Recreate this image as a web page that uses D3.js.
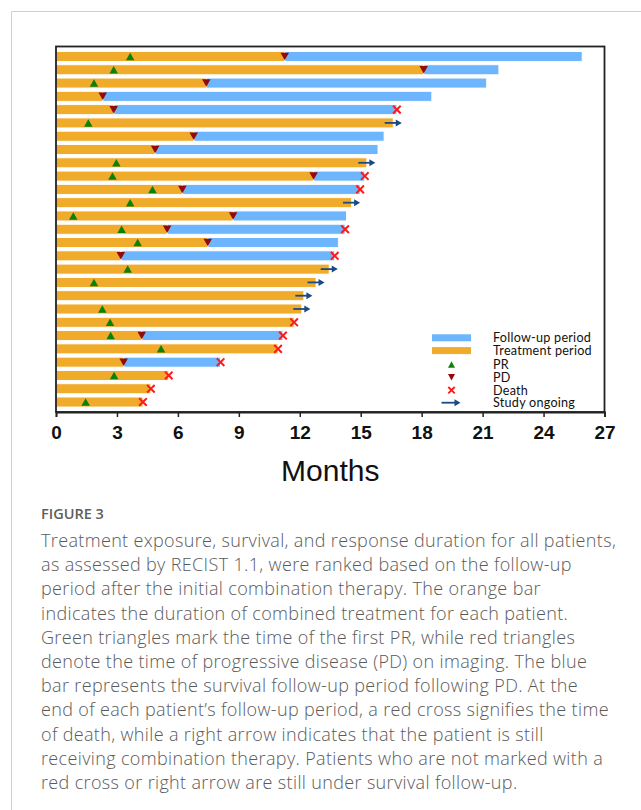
<!DOCTYPE html>
<html>
<head>
<meta charset="utf-8">
<script src="https://cdn.jsdelivr.net/npm/d3@7"></script>
<style>
  html, body { margin: 0; padding: 0; background: #fff; }
  svg { display: block; }
</style>
</head>
<body>
<svg id="chart" width="641" height="810"></svg>
<script>
// ---------------- DATA ----------------
const patients   = d3.range(1, 28).map(i => "P" + i);
const prTime     = [3.65, 2.84, 1.87, null, null, 1.59, null, null, 2.97, 2.78, 4.75, 3.65, 0.85, 3.23, 4.02, null, 3.53, 1.87, null, 2.28, 2.66, 2.69, 5.17, null, 2.86, null, 1.46];
const pdTime     = [11.26, 18.1, 7.4, 2.3, 2.84, null, 6.78, 4.88, null, 12.68, 6.22, null, 8.72, 5.47, 7.47, 3.19, null, null, null, null, null, 4.22, null, 3.33, null, null, null];
const treatEnd   = [11.26, 18.1, 7.4, 2.3, 2.84, 16.6, 6.78, 4.88, 15.3, 12.68, 6.22, 14.55, 8.72, 5.47, 7.47, 3.19, 13.45, 12.8, 12.2, 12.1, 11.72, 4.22, 10.93, 3.33, 5.55, 4.67, 4.28];
const followEnd  = [25.9, 21.8, 21.2, 18.5, 16.78, 16.6, 16.15, 15.85, 15.3, 15.2, 14.97, 14.55, 14.3, 14.23, 13.9, 13.72, 13.45, 12.8, 12.2, 12.1, 11.72, 11.17, 10.93, 8.1, 5.55, 4.67, 4.28];
const outcome    = ["none","none","none","none","death","ongoing","none","none","ongoing","death","death","ongoing","none","death","none","death","ongoing","ongoing","ongoing","ongoing","death","death","death","death","death","death","death"];
const xTicks     = [0, 3, 6, 9, 12, 15, 18, 21, 24, 27];
const legendLabels = ["Follow-up period", "Treatment period", "PR", "PD", "Death", "Study ongoing"];
const captionTitle = "FIGURE 3";
const captionLines = [
  "Treatment exposure, survival, and response duration for all patients,",
  "as assessed by RECIST 1.1, were ranked based on the follow-up",
  "period after the initial combination therapy. The orange bar",
  "indicates the duration of combined treatment for each patient.",
  "Green triangles mark the time of the first PR, while red triangles",
  "denote the time of progressive disease (PD) on imaging. The blue",
  "bar represents the survival follow-up period following PD. At the",
  "end of each patient\u2019s follow-up period, a red cross signifies the time",
  "of death, while a right arrow indicates that the patient is still",
  "receiving combination therapy. Patients who are not marked with a",
  "red cross or right arrow are still under survival follow-up."
];

// ---------------- STYLE ----------------
const C = {
  orange: "#f1ab2b", blue: "#6db5fd", green: "#0b800b", darkred: "#930a0a",
  red: "#ff1a1a", arrow: "#1a4a85", frame: "#222"
};

const rows = patients.map((p, i) => ({
  id: p, pr: prTime[i], pd: pdTime[i], treat: treatEnd[i], end: followEnd[i], out: outcome[i]
}));

const svg = d3.select("#chart");

// card border
svg.append("path").attr("d", "M11.5,810 L11.5,11.5 L641,11.5")
  .attr("fill", "none").attr("stroke", "#cfcfcf").attr("stroke-width", 1);

const L = 56, R = 604.5, T = 46.5, B = 412;
const x = d3.scaleLinear().domain([0, 27]).range([L, R]);
const y = d3.scalePoint().domain(patients).range([T, B]).padding(0.75);
const barH = 10;

const g = svg.append("g");

// follow-up (blue) bars
g.selectAll("rect.fu").data(rows.filter(d => d.pd != null)).join("rect")
  .attr("class", "fu")
  .attr("x", d => x(d.pd)).attr("width", d => x(d.end) - x(d.pd))
  .attr("y", d => y(d.id) - barH / 2).attr("height", barH)
  .attr("fill", C.blue).attr("stroke", "#fff").attr("stroke-width", 0.9);

// treatment (orange) bars
g.selectAll("rect.tr").data(rows).join("rect")
  .attr("class", "tr")
  .attr("x", x(0)).attr("width", d => x(d.treat) - x(0))
  .attr("y", d => y(d.id) - barH / 2).attr("height", barH)
  .attr("fill", C.orange).attr("stroke", "#fff").attr("stroke-width", 0.9);

const triUp = (cx, cy, w, h) => `M${cx - w/2},${cy + h/2} L${cx + w/2},${cy + h/2} L${cx},${cy - h/2} Z`;
const triDown = (cx, cy, w, h) => `M${cx - w/2},${cy - h/2} L${cx + w/2},${cy - h/2} L${cx},${cy + h/2} Z`;
const cross = (cx, cy, s) => `M${cx - s},${cy - s} L${cx + s},${cy + s} M${cx - s},${cy + s} L${cx + s},${cy - s}`;

// PR
g.selectAll("path.pr").data(rows.filter(d => d.pr != null)).join("path")
  .attr("class", "pr").attr("d", d => triUp(x(d.pr), y(d.id), 8.5, 7.5)).attr("fill", C.green);
// PD
g.selectAll("path.pd").data(rows.filter(d => d.pd != null)).join("path")
  .attr("class", "pd").attr("d", d => triDown(x(d.pd), y(d.id), 8.5, 7.5)).attr("fill", C.darkred);
// Death
g.selectAll("path.death").data(rows.filter(d => d.out === "death")).join("path")
  .attr("class", "death").attr("d", d => cross(x(d.end), y(d.id), 3.8))
  .attr("stroke", C.red).attr("stroke-width", 2).attr("fill", "none");
// Ongoing arrows
const arrowHalf = 0.42;
const arr = g.selectAll("g.arr").data(rows.filter(d => d.out === "ongoing")).join("g").attr("class", "arr");
arr.append("line")
  .attr("x1", d => x(d.end - arrowHalf)).attr("x2", d => x(d.end + arrowHalf) - 4)
  .attr("y1", d => y(d.id)).attr("y2", d => y(d.id))
  .attr("stroke", C.arrow).attr("stroke-width", 1.8);
arr.append("path")
  .attr("d", d => { const tx = x(d.end + arrowHalf), cy = y(d.id); return `M${tx},${cy} L${tx - 6},${cy - 3.5} L${tx - 6},${cy + 3.5} Z`; })
  .attr("fill", C.arrow);

// frame
svg.append("rect").attr("x", L).attr("y", T).attr("width", R - L).attr("height", B - T)
  .attr("fill", "none").attr("stroke", C.frame).attr("stroke-width", 1.8);

// x axis
const ax = svg.append("g").attr("transform", `translate(0,${B})`)
  .call(d3.axisBottom(x).tickValues(xTicks).tickSize(5).tickPadding(9).tickFormat(d3.format("d")));
ax.select(".domain").attr("stroke", C.frame).attr("stroke-width", 1.8);
ax.selectAll(".tick line").attr("stroke", C.frame).attr("stroke-width", 1.5);
ax.selectAll(".tick text")
  .attr("font-family", "'Liberation Sans Narrow', 'Arial Narrow', 'Liberation Sans', Arial, sans-serif")
  .attr("font-weight", "bold").attr("font-size", 19).attr("fill", "#111");

svg.append("text").attr("x", (L + R) / 2).attr("y", 481).attr("text-anchor", "middle")
  .attr("font-family", "'Liberation Sans', Arial, sans-serif").attr("font-size", 30).attr("fill", "#111")
  .text("Months");

// legend
const lg = svg.append("g");
const lgX = 451.5, lgTextX = 493;
const lgY = [337.8, 350.6, 364.5, 377.3, 390.2, 402.7];
lg.append("rect").attr("x", lgX - 19.5).attr("y", lgY[0] - 3.5).attr("width", 39).attr("height", 7).attr("fill", C.blue);
lg.append("rect").attr("x", lgX - 19.5).attr("y", lgY[1] - 3.5).attr("width", 39).attr("height", 7).attr("fill", C.orange);
lg.append("path").attr("d", triUp(lgX, lgY[2], 7, 6.5)).attr("fill", C.green);
lg.append("path").attr("d", triDown(lgX, lgY[3], 7, 6.5)).attr("fill", C.darkred);
lg.append("path").attr("d", cross(lgX, lgY[4], 3.2)).attr("stroke", C.red).attr("stroke-width", 1.8).attr("fill", "none");
lg.append("line").attr("x1", lgX - 10).attr("x2", lgX + 4).attr("y1", lgY[5]).attr("y2", lgY[5]).attr("stroke", C.arrow).attr("stroke-width", 1.8);
lg.append("path").attr("d", `M${lgX + 9},${lgY[5]} L${lgX + 3},${lgY[5] - 3.5} L${lgX + 3},${lgY[5] + 3.5} Z`).attr("fill", C.arrow);
lg.selectAll("text").data(legendLabels).join("text")
  .attr("x", lgTextX).attr("y", (d, i) => lgY[i]).attr("dy", "0.35em")
  .attr("font-family", "Lato, 'Open Sans', sans-serif").attr("font-size", 12.6).attr("fill", "#111")
  .attr("letter-spacing", 0.25)
  .text(d => d);

// caption
svg.append("text").attr("x", 41).attr("y", 519)
  .attr("font-family", "'Open Sans', 'Noto Sans', sans-serif").attr("font-size", 14.5).attr("font-weight", 600)
  .attr("fill", "#5e5e5e").text(captionTitle);
svg.append("g").selectAll("text").data(captionLines).join("text")
  .attr("x", 41).attr("y", (d, i) => 547 + i * 24.2)
  .attr("font-family", "'Open Sans', 'Noto Sans', sans-serif").attr("font-size", 18).attr("font-weight", 300)
  .attr("letter-spacing", 0.35)
  .attr("fill", "#5a5a5a").text(d => d);
</script>
</body>
</html>
